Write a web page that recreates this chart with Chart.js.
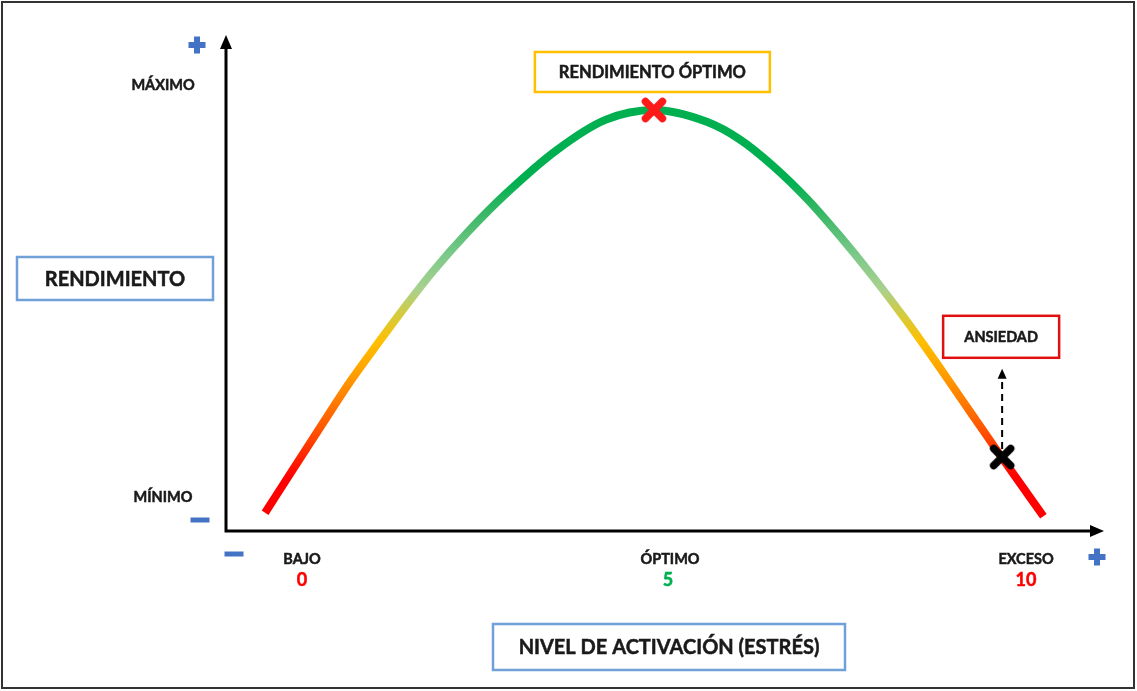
<!DOCTYPE html>
<html>
<head>
<meta charset="utf-8">
<script src="https://cdn.jsdelivr.net/npm/chart.js@4/dist/chart.umd.min.js"></script>
<style>
  html, body { margin: 0; padding: 0; background: #ffffff; }
  #c { display: block; }
</style>
</head>
<body>
<canvas id="c" width="1137" height="691"></canvas>
<script>
// ---- data ----
const curveX = [-0.51, -0.12, 0.29, 0.66, 1.08, 1.45, 1.81, 2.28, 2.83, 3.52, 4.19, 4.86, 5.59, 6.05, 6.51, 6.98, 7.43, 7.89, 8.36, 8.81, 9.27, 9.67, 10.24];
const curveY = [0.37, 1.26, 2.19, 3.02, 3.87, 4.60, 5.27, 6.05, 6.86, 7.73, 8.34, 8.54, 8.30, 7.94, 7.40, 6.73, 5.98, 5.15, 4.24, 3.31, 2.33, 1.48, 0.30];
const peakPoint = [4.86, 8.54];
const anxietyPoint = [9.67, 1.50];
const anxietyArrowTop = 3.29;
const xTickValues = [0, 5, 10];
const xTickWords = ['BAJO', 'ÓPTIMO', 'EXCESO'];
const xTickNumbers = ['0', '5', '10'];
const xTickColors = ['#ff0000', '#00b050', '#ff0000'];
const yTickValues = [0.69, 9.03];
const yTickLabels = ['MÍNIMO', 'MÁXIMO'];
const yAxisTitle = 'RENDIMIENTO';
const xAxisTitle = 'NIVEL DE ACTIVACIÓN (ESTRÉS)';
const peakLabel = 'RENDIMIENTO ÓPTIMO';
const anxietyLabel = 'ANSIEDAD';

const FONT = 'Lato, "Open Sans", sans-serif';
const W = 'bold';
const TXT = '#1a1a1a';

function crossImage(color) {
  const cv = document.createElement('canvas');
  cv.width = 28; cv.height = 28;
  const c = cv.getContext('2d');
  c.strokeStyle = color;
  c.lineWidth = 7.5;
  c.lineCap = 'round';
  c.beginPath();
  c.moveTo(5.5, 5.5); c.lineTo(22.5, 22.5);
  c.moveTo(22.5, 5.5); c.lineTo(5.5, 22.5);
  c.stroke();
  return cv;
}

function gradientColor(context) {
  const chart = context.chart;
  const area = chart.chartArea;
  if (!area) return '#00b050';
  const y = chart.scales.y;
  const y0 = y.getPixelForValue(0), y1 = y.getPixelForValue(10);
  const g = chart.ctx.createLinearGradient(0, y0, 0, y1);
  g.addColorStop(0.00, '#ff0000');
  g.addColorStop(0.11, '#ff0000');
  g.addColorStop(0.20, '#ff5000');
  g.addColorStop(0.27, '#ff8000');
  g.addColorStop(0.33, '#ffa500');
  g.addColorStop(0.385, '#ffc000');
  g.addColorStop(0.445, '#cfcc45');
  g.addColorStop(0.49, '#a9d18e');
  g.addColorStop(0.56, '#7cc98a');
  g.addColorStop(0.64, '#3cb868');
  g.addColorStop(0.71, '#00b050');
  g.addColorStop(1.00, '#00b050');
  return g;
}

function boldText(ctx, text, x, y, color) {
  ctx.fillStyle = color;
  ctx.strokeStyle = color;
  ctx.lineWidth = 0.5;
  ctx.fillText(text, x, y);
  ctx.strokeText(text, x, y);
}

function box(ctx, cx, cy, w, h, color, text, size) {
  ctx.save();
  ctx.fillStyle = '#ffffff';
  ctx.fillRect(cx - w / 2, cy - h / 2, w, h);
  ctx.strokeStyle = color;
  ctx.lineWidth = 2.5;
  ctx.strokeRect(cx - w / 2, cy - h / 2, w, h);
  ctx.font = W + ' ' + size + 'px ' + FONT;
  ctx.textAlign = 'center';
  ctx.textBaseline = 'middle';
  boldText(ctx, text, cx, cy + 1, TXT);
  ctx.restore();
}

function plus(ctx, cx, cy) {
  ctx.fillStyle = '#4472c4';
  ctx.fillRect(cx - 8.5, cy - 3, 17, 6);
  ctx.fillRect(cx - 3, cy - 8.5, 6, 17);
}
function minus(ctx, cx, cy) {
  ctx.fillStyle = '#4472c4';
  ctx.fillRect(cx - 9.5, cy - 2.5, 19, 5);
}

const decor = {
  id: 'decor',
  beforeDatasetsDraw(chart) {
    const ctx = chart.ctx;
    const a = chart.chartArea;
    ctx.save();
    // frame
    ctx.strokeStyle = '#333333';
    ctx.lineWidth = 2;
    ctx.strokeRect(2, 2, 1132, 686);
    // axes
    ctx.strokeStyle = '#000000';
    ctx.fillStyle = '#000000';
    ctx.lineWidth = 3;
    ctx.beginPath();
    ctx.moveTo(a.left, a.bottom + 1.5);
    ctx.lineTo(a.left, a.top + 10);
    ctx.moveTo(a.left - 1.5, a.bottom);
    ctx.lineTo(a.right - 10, a.bottom);
    ctx.stroke();
    ctx.beginPath();
    ctx.moveTo(a.left, a.top - 3);
    ctx.lineTo(a.left - 6, a.top + 11);
    ctx.lineTo(a.left + 6, a.top + 11);
    ctx.closePath();
    ctx.fill();
    ctx.beginPath();
    ctx.moveTo(a.right, a.bottom);
    ctx.lineTo(a.right - 14, a.bottom - 6);
    ctx.lineTo(a.right - 14, a.bottom + 6);
    ctx.closePath();
    ctx.fill();
    // plus / minus signs
    plus(ctx, a.left - 29, a.top + 7);
    plus(ctx, a.right - 7, a.bottom + 26);
    minus(ctx, a.left - 26, a.bottom - 11);
    minus(ctx, a.left + 8, a.bottom + 23);
    // y tick labels
    ctx.font = W + ' 14.5px ' + FONT;
    ctx.textAlign = 'center';
    ctx.textBaseline = 'middle';
    yTickValues.forEach((v, i) => {
      boldText(ctx, yTickLabels[i], a.left - 63, chart.scales.y.getPixelForValue(v), TXT);
    });
    // x tick labels
    xTickValues.forEach((v, i) => {
      const px = chart.scales.x.getPixelForValue(v);
      ctx.font = W + ' 14.5px ' + FONT;
      boldText(ctx, xTickWords[i], px + (i === 1 ? 6 : 0), a.bottom + 28, TXT);
      ctx.font = W + ' 18px ' + FONT;
      boldText(ctx, xTickNumbers[i], px + (i === 1 ? 4 : 0), a.bottom + 49, xTickColors[i]);
    });
    // dashed arrow from anxiety marker
    const ax = chart.scales.x.getPixelForValue(anxietyPoint[0]);
    const ay = chart.scales.y.getPixelForValue(anxietyPoint[1]);
    const at = chart.scales.y.getPixelForValue(anxietyArrowTop);
    ctx.strokeStyle = '#000000';
    ctx.fillStyle = '#000000';
    ctx.lineWidth = 2;
    ctx.setLineDash([7, 5]);
    ctx.beginPath();
    ctx.moveTo(ax, ay - 8);
    ctx.lineTo(ax, at + 9);
    ctx.stroke();
    ctx.setLineDash([]);
    ctx.beginPath();
    ctx.moveTo(ax, at);
    ctx.lineTo(ax - 4.5, at + 10);
    ctx.lineTo(ax + 4.5, at + 10);
    ctx.closePath();
    ctx.fill();
    ctx.restore();
  },
  afterDraw(chart) {
    const ctx = chart.ctx;
    const px = chart.scales.x.getPixelForValue(peakPoint[0]);
    const py = chart.scales.y.getPixelForValue(peakPoint[1]);
    box(ctx, px - 1.5, py - 38, 235, 40, '#ffc000', peakLabel, 16.5);
    const ax = chart.scales.x.getPixelForValue(anxietyPoint[0]);
    const at = chart.scales.y.getPixelForValue(anxietyArrowTop);
    box(ctx, ax - 1, at - 32, 116, 42, '#e01010', anxietyLabel, 14.5);
    box(ctx, 115, 278.5, 196, 43, '#6fa0d8', yAxisTitle, 20);
    box(ctx, 669, 647, 352, 46, '#6fa0d8', xAxisTitle, 20);
  }
};

new Chart(document.getElementById('c'), {
  type: 'line',
  data: {
    datasets: [
      {
        data: curveX.map((x, i) => ({ x: x, y: curveY[i] })),
        order: 2,
        borderColor: gradientColor,
        borderWidth: 8,
        pointRadius: 0,
        cubicInterpolationMode: 'monotone',
        borderCapStyle: 'butt',
        fill: false,
        clip: false
      },
      {
        data: [{ x: peakPoint[0], y: peakPoint[1] }],
        order: 1,
        showLine: false,
        pointStyle: crossImage('#ff1a1a'),
        pointRadius: 12,
        clip: false
      },
      {
        data: [{ x: anxietyPoint[0], y: anxietyPoint[1] }],
        order: 1,
        showLine: false,
        pointStyle: crossImage('#000000'),
        pointRadius: 12,
        clip: false
      }
    ]
  },
  options: {
    responsive: false,
    animation: false,
    devicePixelRatio: 1,
    layout: { padding: { left: 226, top: 38, right: 33, bottom: 160 } },
    plugins: { legend: { display: false }, tooltip: { enabled: false }, title: { display: false } },
    scales: {
      x: { type: 'linear', display: false, min: -1.05, max: 11.077 },
      y: { type: 'linear', display: false, min: 0, max: 10 }
    },
    elements: { line: { borderJoinStyle: 'round' } }
  },
  plugins: [decor]
});
</script>
</body>
</html>
